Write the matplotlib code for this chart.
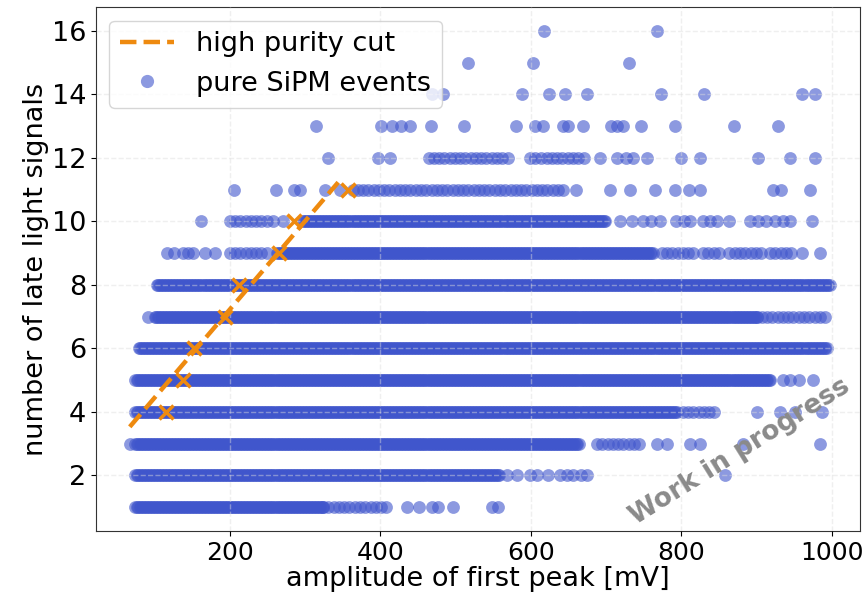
import numpy as np
import matplotlib
matplotlib.use('Agg')
import matplotlib.pyplot as plt
from matplotlib.lines import Line2D

# number of late light signals (one row of events per value)
signal_levels = [1, 2, 3, 4, 5, 6, 7, 8, 9, 10, 11, 12, 13, 14, 15, 16]

# amplitude ranges [mV] where events pile up into a solid band
dense_ranges = {
    1: [(74, 324)],
    2: [(74, 559)],
    3: [(74, 665)],
    4: [(74, 794)],
    5: [(74, 918)],
    6: [(79, 993)],
    7: [(100, 900)],
    8: [(103, 997)],
    9: [(262, 762)],
    10: [(297, 700)],
}

# amplitude ranges [mV] with looser, overlapping events
loose_ranges = {
    1: [(324, 413)],
    3: [(688, 749)],
    4: [(802, 850)],
    7: [(900, 997)],
    9: [(200, 255), (774, 821), (829, 855), (864, 908), (918, 948)],
    10: [(200, 249)],
    11: [(363, 640)],
    12: [(464, 575), (614, 676)],
}

# isolated events [mV]
single_events = {
    1: [435, 452, 468, 476, 496, 548, 556],
    2: [568, 581, 599, 608, 623, 639, 648, 656, 666, 674, 858],
    3: [67, 768, 781, 811, 825, 882, 984],
    4: [900, 931, 951, 987],
    5: [935, 945, 957, 975],
    7: [91],
    9: [116, 126, 138, 145, 151, 167, 180, 960, 984],
    10: [162, 257, 270, 718, 734, 749, 760, 771, 793, 803, 811, 829, 838,
         847, 864, 891, 902, 913, 924, 935, 944, 973],
    11: [205, 261, 285, 293, 326, 347, 643, 660, 705, 732, 765, 791, 810,
         825, 922, 933, 971],
    12: [330, 397, 413, 599, 606, 692, 714, 727, 736, 754, 799, 825, 902,
         945, 977],
    13: [314, 401, 416, 428, 440, 467, 511, 580, 606, 616, 643, 650, 669,
         707, 715, 723, 746, 792, 870, 928],
    14: [468, 483, 588, 624, 645, 674, 773, 830, 960, 977],
    15: [516, 603, 730],
    16: [618, 768],
}

# high purity cut: line and selected points
cut_line_x = [67, 344]
cut_line_y = [3.53, 11.23]
cut_points_x = [115, 138, 153, 193, 212, 265, 285, 357]
cut_points_y = [4, 5, 6, 7, 8, 9, 10, 11]

BLUE = '#4056cc'
ORANGE = '#ee8a0f'
FS = 19.5

# zbieranie punktow do wykresu
xs, ys = [], []
for lvl in signal_levels:
    for a, b in dense_ranges.get(lvl, []):
        pts = np.arange(a, b + 0.1, 2.0)
        xs.extend(pts)
        ys.extend([lvl] * len(pts))
    for a, b in loose_ranges.get(lvl, []):
        pts = np.arange(a, b + 0.1, 7.0)
        xs.extend(pts)
        ys.extend([lvl] * len(pts))
    for v in single_events.get(lvl, []):
        xs.append(v)
        ys.append(lvl)

fig = plt.figure(figsize=(8.64, 6.04), dpi=100)
ax = fig.add_axes([0.111, 0.1209, 0.884, 0.8675])

ax.scatter(xs, ys, s=85, color=BLUE, alpha=0.6, linewidths=0, zorder=1)
ax.plot(cut_line_x, cut_line_y, '--', color=ORANGE, lw=3.2, zorder=3)
ax.plot(cut_points_x, cut_points_y, 'x', color=ORANGE, ms=10, mew=2.5, zorder=3)

ax.set_xlim(22, 1037)
ax.set_ylim(0.25, 16.75)
ax.set_xticks([200, 400, 600, 800, 1000])
ax.set_yticks([2, 4, 6, 8, 10, 12, 14, 16])
ax.tick_params(axis='x', labelsize=18)
ax.tick_params(axis='y', labelsize=FS)
ax.set_xlabel('amplitude of first peak [mV]', fontsize=FS, labelpad=1)
ax.set_ylabel('number of late light signals', fontsize=FS, labelpad=2)

ax.set_axisbelow(False)
ax.grid(True, linestyle='--', color='#dddddd', alpha=0.45, lw=1)
for sp in ax.spines.values():
    sp.set_color('#333333')

handles = [
    Line2D([], [], ls='--', color=ORANGE, lw=3.2),
    Line2D([], [], ls='', marker='o', ms=9.5, color=BLUE, alpha=0.6, mew=0),
]
ax.legend(handles, ['high purity cut', 'pure SiPM events'], loc='upper left',
          fontsize=FS, framealpha=0.8)

ax.text(0.843, 0.151, 'Work in progress', transform=ax.transAxes,
        fontsize=19, fontweight='bold', color='#8a8a8a', rotation=32,
        ha='center', va='center', zorder=5)

fig.savefig('out.png', dpi=100)
